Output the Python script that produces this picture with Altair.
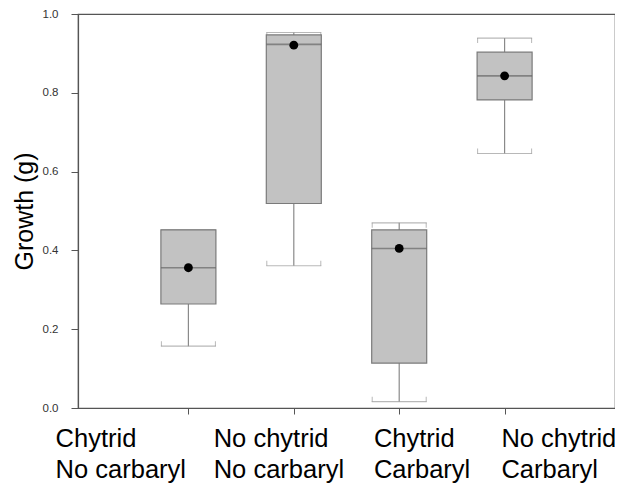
import altair as alt
import pandas as pd

# Values
groups = [1, 2, 3, 4]
group_labels = ["Chytrid\nNo carbaryl", "No chytrid\nNo carbaryl", "Chytrid\nCarbaryl", "No chytrid\nCarbaryl"]
label_x = [-0.26, 1.24, 2.76, 3.97]
lower_whisker = [0.157, 0.361, 0.016, 0.646]
q1 = [0.264, 0.519, 0.114, 0.782]
median = [0.356, 0.923, 0.405, 0.843]
q3 = [0.452, 0.947, 0.452, 0.903]
upper_whisker = [0.452, 0.953, 0.470, 0.939]
mean = [0.356, 0.921, 0.405, 0.843]
y_ticks = [round(i * 0.1, 1) for i in range(11)]

df = pd.DataFrame({
    "g": groups, "lo": lower_whisker, "q1": q1, "med": median,
    "q3": q3, "hi": upper_whisker, "mean": mean,
})
lab = pd.DataFrame({"lx": label_x, "label": [s.split("\n") for s in group_labels]})

BOX_W = 55
HALF = BOX_W / 2 - 0.5
xscale = alt.Scale(domain=[0, 5], nice=False, zero=False)
yscale = alt.Scale(domain=[0, 1], nice=False)

xax = alt.Axis(values=groups, labels=False, title=None, grid=False, tickSize=6,
               domainColor="#555555", tickColor="#555555")
yax = alt.Axis(values=y_ticks, grid=False, title="Growth (g)",
               labelExpr="round(datum.value*10)%2==0 ? format(datum.value, '.1f') : ''",
               tickSize={"condition": {"test": "round(datum.value*10)%2==1", "value": 4}, "value": 7},
               labelFontSize=11.5, labelColor="#333333", labelPadding=13,
               titleFontSize=25, titleFontWeight="normal", titleFont="Liberation Sans",
               titleColor="#000000", titlePadding=5,
               domainColor="#555555", tickColor="#555555")

base = alt.Chart(df)
X = alt.X("g:Q", scale=xscale, axis=xax)

whisk_lo = base.mark_rule(color="#8a8a8a", strokeWidth=1.2).encode(
    x=X, y=alt.Y("lo:Q", scale=yscale, axis=yax), y2="q1:Q")
whisk_hi = base.mark_rule(color="#8a8a8a", strokeWidth=1.2).encode(
    x=X, y=alt.Y("q3:Q"), y2="hi:Q")
cap_lo = base.mark_tick(orient="horizontal", size=BOX_W, thickness=1.2, color="#9a9a9a").encode(
    x=X, y="lo:Q")
cap_hi = base.mark_tick(orient="horizontal", size=BOX_W, thickness=1.2, color="#9a9a9a").encode(
    x=X, y="hi:Q")
end_ticks = []
for dx in (-HALF, HALF):
    end_ticks.append(base.mark_tick(orient="vertical", size=5, thickness=1, color="#9a9a9a",
                                    xOffset=dx, yOffset=-2.5).encode(x=X, y="lo:Q"))
    end_ticks.append(base.mark_tick(orient="vertical", size=5, thickness=1, color="#9a9a9a",
                                    xOffset=dx, yOffset=2.5).encode(x=X, y="hi:Q"))
box = base.mark_bar(size=BOX_W, color="#c2c2c2", stroke="#7a7a7a", strokeWidth=1.2).encode(
    x=X, y="q1:Q", y2="q3:Q")
med = base.mark_tick(orient="horizontal", size=BOX_W, thickness=1.6, color="#666666").encode(
    x=X, y="med:Q")
dots = base.mark_circle(size=78, color="#000000", opacity=1).encode(x=X, y="mean:Q")

labels = alt.Chart(lab).mark_text(align="left", baseline="alphabetic", fontSize=25.5,
                                  font="Liberation Sans", color="#000000", lineHeight=31).encode(
    x=alt.X("lx:Q", scale=xscale), y=alt.value(433), text="label")

chart = alt.layer(whisk_lo, whisk_hi, *end_ticks, cap_lo, cap_hi, box, med, dots, labels).properties(
    width=537, height=394,
    autosize=alt.AutoSizeParams(type="none"),
    padding={"left": 70, "top": 6, "right": 0, "bottom": 75},
).configure_view(stroke="#555555", strokeWidth=1.2).configure_axis(domainWidth=1.2)

chart.save("out.html", embed_options={"renderer": "svg", "actions": False})
